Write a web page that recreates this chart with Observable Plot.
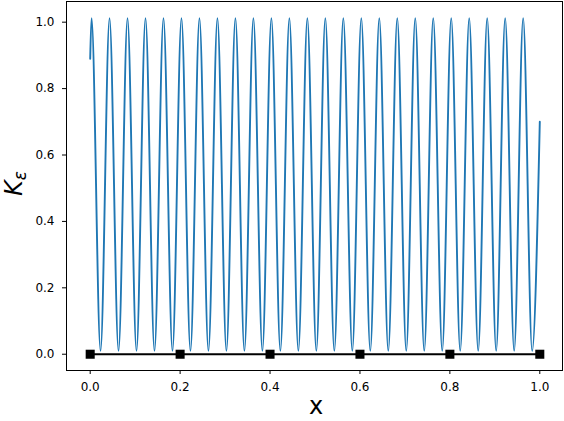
<!DOCTYPE html>
<html>
<head>
<meta charset="utf-8">
<script src="https://cdn.jsdelivr.net/npm/d3@7"></script>
<script src="https://cdn.jsdelivr.net/npm/@observablehq/plot@0.6"></script>
<style>
  html, body { margin: 0; padding: 0; background: #fff; }
  #chart svg { display: block; }
</style>
</head>
<body>
<div id="chart"></div>
<script>
// Curve K_eps(x): start/end values, peaks and troughs
const startPoint = [0.0, 0.89];
const endPoint = [1.0, 0.70];
const peakX = [0.003,0.043,0.083,0.123,0.163,0.203,0.243,0.283,0.323,0.363,0.403,0.443,0.483,
               0.523,0.563,0.603,0.643,0.683,0.723,0.763,0.803,0.843,0.883,0.923,0.963];
const peakY = [1.012,1.012,1.012,1.012,1.012,1.012,1.012,1.012,1.012,1.012,1.012,1.012,1.012,
               1.012,1.012,1.012,1.012,1.012,1.012,1.012,1.012,1.012,1.012,1.012,1.012];
const troughX = [0.023,0.063,0.103,0.143,0.183,0.223,0.263,0.303,0.343,0.383,0.423,0.463,0.503,
                 0.543,0.583,0.623,0.663,0.703,0.743,0.783,0.823,0.863,0.903,0.943,0.983];
const troughY = [0.01,0.01,0.01,0.01,0.01,0.01,0.01,0.01,0.01,0.01,0.01,0.01,0.01,
                 0.01,0.01,0.01,0.01,0.01,0.01,0.01,0.01,0.01,0.01,0.01,0.01];
// Black baseline with square markers
const markerX = [0.0, 0.2, 0.4, 0.6, 0.8, 1.0];
const markerY = [0, 0, 0, 0, 0, 0];
// Ticks
const xTicks = [0.0, 0.2, 0.4, 0.6, 0.8, 1.0];
const yTicks = [0.0, 0.2, 0.4, 0.6, 0.8, 1.0];

const curve = [{x: startPoint[0], y: startPoint[1]}];
peakX.forEach((px, i) => {
  curve.push({x: px, y: peakY[i]});
  curve.push({x: troughX[i], y: troughY[i]});
});
curve.push({x: endPoint[0], y: endPoint[1]});
curve.sort((a, b) => a.x - b.x);
const markers = markerX.map((x, i) => ({x, y: markerY[i]}));

const W = 564, H = 421;
const font = "DejaVu Sans, sans-serif";

const chart = Plot.plot({
  width: W,
  height: H,
  marginLeft: 66,
  marginRight: 2,
  marginTop: 1,
  marginBottom: 51,
  style: {fontFamily: font, fontSize: "12px", color: "black", background: "white"},
  x: {domain: [-0.0527, 1.0505], ticks: xTicks, tickFormat: d3.format(".1f"), label: null},
  y: {domain: [-0.049, 1.0623], ticks: yTicks, tickFormat: d3.format(".1f"), label: null},
  marks: [
    Plot.line(curve, {x: "x", y: "y", stroke: "#1f77b4", strokeWidth: 1.9, curve: "monotone-x"}),
    Plot.line(markers, {x: "x", y: "y", stroke: "black", strokeWidth: 1.8}),
    Plot.dot(markers, {x: "x", y: "y", symbol: "square", r: 5.1, fill: "black", stroke: "none"}),
    Plot.frame({stroke: "black", strokeWidth: 1}),
    Plot.axisX({ticks: xTicks, tickFormat: d3.format(".1f"), tickSize: 4, tickPadding: 8, label: null, fontSize: 12}),
    Plot.axisY({ticks: yTicks, tickFormat: d3.format(".1f"), tickSize: 4, tickPadding: 8, label: null, fontSize: 12})
  ]
});

document.getElementById("chart").appendChild(chart);

const svg = d3.select(chart);
const xs = chart.scale("x"), ys = chart.scale("y");
const cx = (xs.range[0] + xs.range[1]) / 2;
const cy = (ys.range[0] + ys.range[1]) / 2;

svg.append("text")
  .attr("x", cx + 2)
  .attr("y", 414)
  .attr("text-anchor", "middle")
  .attr("font-family", font)
  .attr("font-size", 24)
  .attr("fill", "black")
  .text("x");

const yl = svg.append("text")
  .attr("transform", `translate(22,${cy - 2}) rotate(-90)`)
  .attr("text-anchor", "middle")
  .attr("font-family", font)
  .attr("font-size", 24)
  .attr("fill", "black");
yl.append("tspan").attr("font-style", "italic").text("K");
yl.append("tspan").attr("font-style", "italic").attr("font-size", 17).attr("dy", 4).text("ε");
</script>
</body>
</html>
